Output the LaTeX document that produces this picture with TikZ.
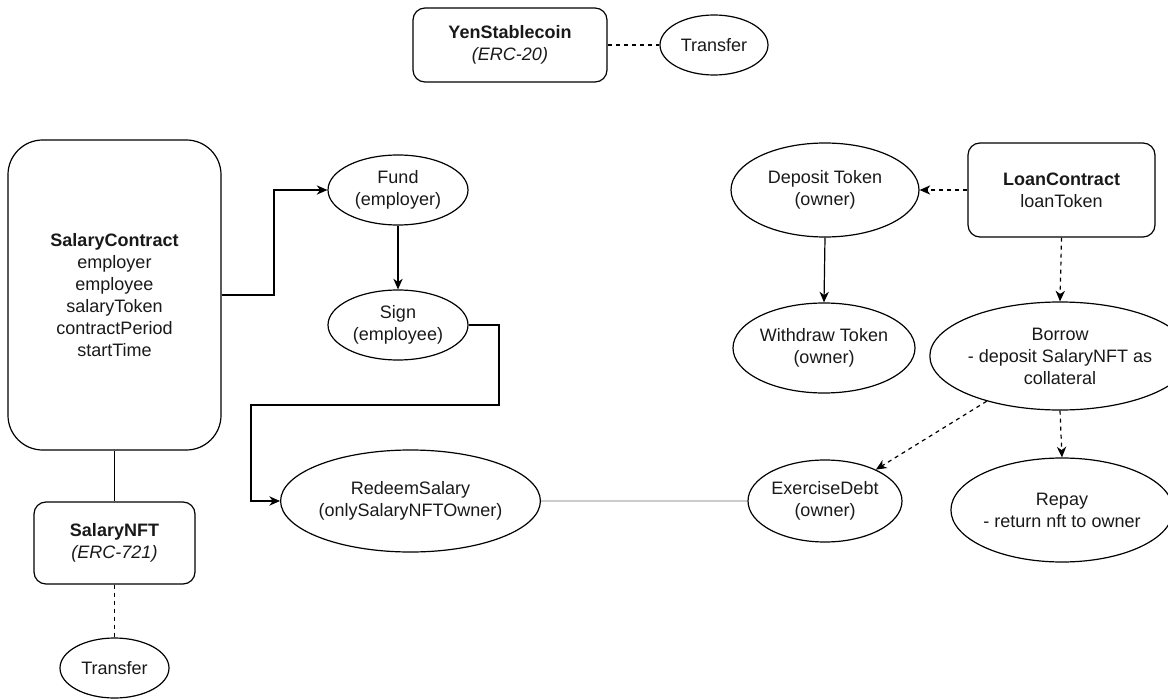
\documentclass[tikz,border=0pt]{standalone}
\usepackage{fontspec}
\setmainfont{Liberation Sans}
\usetikzlibrary{shapes.geometric,arrows.meta}
\begin{document}
\begin{tikzpicture}[x=0.75pt,y=-0.75pt,
  every node/.style={font=\fontsize{13.5pt}{16.5pt}\selectfont, text=black!90, align=center, inner sep=0pt},
  box/.style={draw, line width=0.9pt, rectangle, rounded corners=9pt},
  oval/.style={draw, line width=0.9pt, ellipse},
  link/.style={line width=0.9pt},
  arr/.style={line width=0.9pt, -{Stealth[length=8pt,width=7pt,inset=2.5pt]}},
  dsh/.style={dash pattern=on 3pt off 3pt}]
\useasboundingbox (0,0) rectangle (1168,699);
% nodes
\node[box, minimum width=145.5pt, minimum height=55.5pt] (yen) at (510,45) {\textbf{YenStablecoin}\\\textit{(ERC-20)}};
\node[oval, minimum width=81pt, minimum height=45pt] (t1) at (714,45) {Transfer};
\node[box, rounded corners=26pt, minimum width=159.75pt, minimum height=232.5pt] (salary) at (114.5,295) {\textbf{SalaryContract}\\employer\\employee\\salaryToken\\contractPeriod\\startTime};
\node[oval, minimum width=105pt, minimum height=52.5pt] (fund) at (398,190) {Fund\\(employer)};
\node[oval, minimum width=105pt, minimum height=52.5pt] (sign) at (398,325) {Sign\\(employee)};
\node[oval, minimum width=191.25pt, minimum height=76.5pt] (redeem) at (410.5,501) {RedeemSalary\\(onlySalaryNFTOwner)};
\node[box, minimum width=120.75pt, minimum height=61.5pt] (nft) at (114.5,543) {\textbf{SalaryNFT}\\\textit{(ERC-721)}};
\node[oval, minimum width=81.75pt, minimum height=45pt] (t2) at (114.5,668) {Transfer};
\node[oval, minimum width=141pt, minimum height=70.5pt] (deposit) at (825,190) {Deposit Token\\(owner)};
\node[box, minimum width=140.25pt, minimum height=70.5pt] (loan) at (1061.5,190) {\textbf{LoanContract}\\loanToken};
\node[oval, minimum width=136.5pt, minimum height=67.5pt] (withdraw) at (824,348) {Withdraw Token\\(owner)};
\node[oval, minimum width=160.5pt, minimum height=81pt] (borrow) at (1060,356) {Borrow\\- deposit SalaryNFT as\\collateral};
\node[oval, minimum width=115.5pt, minimum height=61.5pt] (exercise) at (825,501) {ExerciseDebt\\(owner)};
\node[oval, minimum width=154.5pt, minimum height=78pt] (repay) at (1062,510) {Repay\\- return nft to owner};
% connectors
\draw[link, dsh] (yen.east) -- (t1.west);
\coordinate (s1) at (274,295);
\draw[arr] (salary.east) -- (s1) |- (fund.west);
\draw[arr] (fund.south) -- (sign.north);
\coordinate (c1) at (499,405);
\coordinate (c2) at (251,405);
\draw[arr] (sign.east) -| (c1) -- (c2) |- (redeem.west);
\draw[link] (salary.south) -- (nft.north);
\draw[link, dsh] (nft.south) -- (t2.north);
\draw[link, black!20] (redeem.east) -- (exercise.west);
\draw[arr, dsh] (loan.west) -- (deposit.east);
\draw[arr] (deposit.south) -- (withdraw.north);
\draw[arr, dsh] (loan.south) -- (borrow.north);
\draw[arr, dsh] (borrow) -- (exercise);
\draw[arr, dsh] (borrow.south) -- (repay.north);
\end{tikzpicture}
\end{document}
